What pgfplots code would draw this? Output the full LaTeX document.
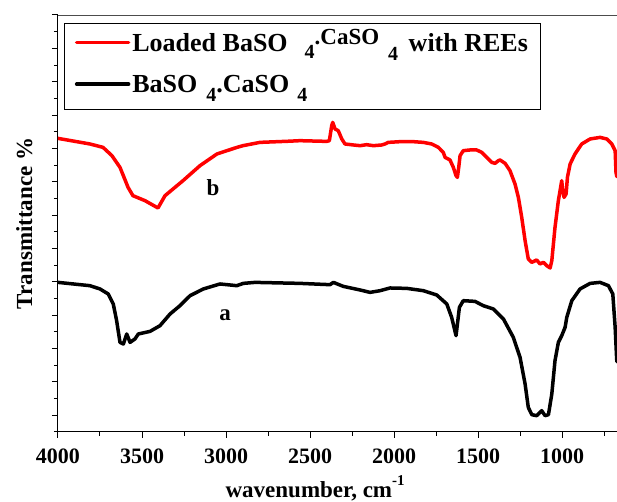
\documentclass[border=0pt]{standalone}
\usepackage{pgfplots}
\pgfplotsset{compat=1.18}
\usepackage{fontspec}
\setmainfont{Liberation Serif}
\newcommand{\sub}[2][9pt]{\raisebox{-#1}{\fontsize{20}{20}\selectfont #2}}
\begin{document}
\begin{tikzpicture}
\begin{axis}[
  name=ax,
  scale only axis, width=559pt, height=416.67pt,
  x dir=reverse, xmin=673, xmax=4000,
  ymin=0, ymax=416.67,
  axis lines*=left,
  axis line style={line width=1pt, black},
  tick align=outside,
  tick style={line width=1pt, black},
  major tick length=6pt, minor tick length=4pt,
  xtick={1000,1500,2000,2500,3000,3500,4000},
  minor xtick={750,1250,1750,2250,2750,3250,3750},
  ytick={16.67,50,83.33,116.67,150,183.33,216.67,250,283.33,316.67,350,383.33,416.67},
  minor ytick={0,33.33,66.67,100,133.33,166.67,200,233.33,266.67,300,333.33,366.67,400},
  yticklabels={},
  /pgf/number format/assume math mode=true,
  /pgf/number format/1000 sep={},
  xticklabel style={font=\fontsize{22}{22}\selectfont\bfseries, anchor=base, inner sep=0pt, yshift=-26pt},
  xlabel={wavenumber, cm\raisebox{12pt}{\fontsize{15}{15}\selectfont -1}},
  xlabel style={font=\fontsize{23}{23}\selectfont\bfseries, at={(axis description cs:0.46,0)}, anchor=base, inner sep=0pt, yshift=-66pt},
  ylabel={Transmittance \%},
  ylabel style={font=\fontsize{23}{23}\selectfont\bfseries, at={(axis description cs:-0.0465,0.5)}, anchor=base, inner sep=0pt},
  legend style={at={(0.0107,0.98)}, anchor=north west, draw=black, line width=0.8pt,
    font=\fontsize{26}{30}\selectfont\bfseries, inner xsep=10.5pt, inner ysep=5.3pt, row sep=8.7pt,
    nodes={inner sep=2pt, text height=20pt, text depth=9pt}},
  legend cell align=left,
  legend image code/.code={\draw[#1] (0pt,3pt) -- (52pt,3pt);},
  extra description/.code={\draw[line width=0.8pt, black!70] (rel axis cs:0,1) -- (rel axis cs:1,1);},
  clip=true,
]
\addplot[red, line width=3.5pt, line join=round, line cap=round] table {
4000 293.3
3810 287.7
3732 284.3
3679 276
3631 264.3
3583 244.3
3554 236
3482 231
3405 223.7
3363 236
3304 244.3
3256 251
3155 266
3054 277.7
2935 284.3
2899 286
2798 289.3
2619 290.5
2560 291
2401 290.3
2385 291
2371 306
2365 309.3
2351 302.7
2332 301
2311 292.7
2292 287.7
2242 286.7
2202 286
2163 287
2123 286
2073 286.7
2054 287.7
2034 289.3
1964 290
1885 290
1826 289.3
1776 287.7
1736 284.3
1707 279.3
1696 274.3
1667 271.7
1647 264.3
1631 256
1623 254.3
1615 264.3
1607 276
1588 281
1548 281.7
1508 281.7
1478 279.3
1448 274.3
1418 269.3
1399 268.3
1379 271
1369 271.7
1339 268.3
1310 261
1280 247.7
1260 234.3
1240 214.3
1220 191
1201 172.7
1180 169.3
1151 171.7
1131 167.7
1111 169.3
1091 166
1071 163.7
1061 171
1042 204.3
1022 231
1012 241
1002 251
996 241
988 234.3
976 237.7
968 254.3
952 267.7
923 277.7
883 287.7
833 292.7
774 294.3
734 292.7
704 287.7
684 281
679 259.3
674 255
};
\addlegendentry{Loaded BaSO\kern17pt\sub[7.5pt]{4}\raisebox{7pt}{\fontsize{23}{23}\selectfont .CaSO}\kern9pt\sub{4}\kern4pt{} with REEs}
\addplot[black, line width=3.5pt, line join=round, line cap=round] table {
4000 149.3
3810 146
3750 142.7
3701 137.7
3671 127.7
3651 111
3631 89.3
3611 87.7
3591 97.7
3571 89.3
3542 92.7
3522 97.7
3452 100.3
3393 106
3333 117.7
3274 126
3214 136
3135 142.7
3036 147.7
2976 146.7
2936 146
2897 148.3
2827 149.3
2560 148.3
2381 147
2361 149.3
2302 145.3
2202 141.7
2143 139.3
2083 141
2024 143.7
1924 143.3
1826 141
1746 136.7
1686 127.7
1657 114.3
1631 96
1611 124.3
1588 131
1518 130.3
1469 126
1409 122.7
1349 112.7
1290 94.3
1250 74.3
1220 47.7
1201 24.3
1180 17
1151 16
1121 21
1101 16
1081 17
1061 37.7
1042 71
1022 89.3
1002 96
982 104.3
972 114.3
942 131
893 142.7
833 148.3
774 149.3
724 146
698 137.7
684 104.3
676 76
674 70
};
\addlegendentry{BaSO\kern9pt\sub{4}.CaSO\kern8pt\sub{4}}
\node[font=\fontsize{23}{23}\selectfont\bfseries] at (axis cs:3077,244) {b};
\node[font=\fontsize{23}{23}\selectfont\bfseries] at (axis cs:3006,116) {a};
\end{axis}
\pgfresetboundingbox
\path ([shift={(-58pt,-70pt)}]ax.south west) rectangle ([shift={(0pt,15pt)}]ax.north east);
\end{tikzpicture}
\end{document}
